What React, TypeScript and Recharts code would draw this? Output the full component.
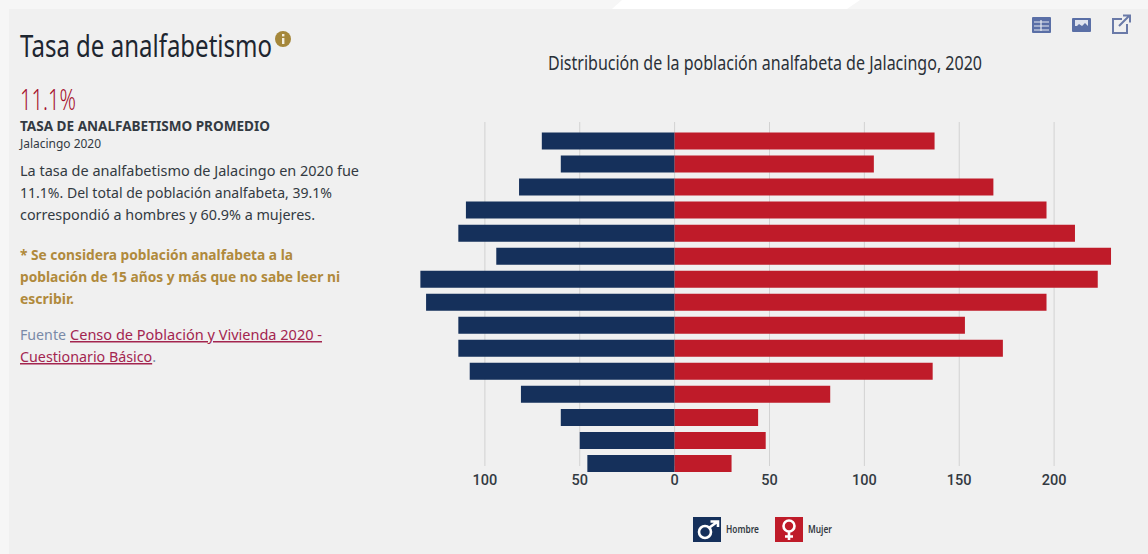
import { BarChart, Bar, XAxis, YAxis, CartesianGrid, Legend } from 'recharts';

const ageGroups = [
  '85 y más', '80 a 84', '75 a 79', '70 a 74', '65 a 69', '60 a 64', '55 a 59', '50 a 54',
  '45 a 49', '40 a 44', '35 a 39', '30 a 34', '25 a 29', '20 a 24', '15 a 19',
];
const hombres = [70, 60, 82, 110, 114, 94, 134, 131, 114, 114, 108, 81, 60, 50, 46];
const mujeres = [137, 105, 168, 196, 211, 230, 223, 196, 153, 173, 136, 82, 44, 48, 30];
const xTicks = [-100, -50, 0, 50, 100, 150, 200];

const data = ageGroups.map((grupo, i) => ({
  grupo,
  hombre: -hombres[i],
  mujer: mujeres[i],
}));

const NAVY = '#15305b';
const RED = '#bf1b29';
const SANS = '"Noto Sans", sans-serif';

// x, baseline, ancho medido en la referencia
function Line({ x, y, w, size, color, weight = 400, underline = false, children }: any) {
  return (
    <text
      x={x}
      y={y}
      textLength={w}
      lengthAdjust="spacingAndGlyphs"
      fontFamily={SANS}
      fontSize={size}
      fontWeight={weight}
      fill={color}
      textDecoration={underline ? 'underline' : undefined}
    >
      {children}
    </text>
  );
}

function Background() {
  return (
    <svg width={1148} height={554} style={{ position: 'absolute', left: 0, top: 0 }}>
      <rect width={1148} height={554} fill="#f6f6f6" />
      <polygon points="612,9 622,0 860,0 847,9" fill="#ffffff" />
      <rect x={9} y={9} width={1139} height={545} fill="#f0f0f0" />

      <Line x={20} y={57} w={252} size={31} color="#1e2630">Tasa de analfabetismo</Line>
      <circle cx={283} cy={39} r={8} fill="#a5873a" />
      <rect x={282} y={38} width={2.4} height={6} fill="#f4efe0" />
      <rect x={282} y={34} width={2.4} height={2.4} fill="#f4efe0" />

      <Line x={20} y={110} w={56} size={29} color="#a5102c" weight={300}>11.1%</Line>
      <Line x={20} y={131} w={250} size={14.5} color="#333a42" weight={700}>TASA DE ANALFABETISMO PROMEDIO</Line>
      <Line x={20} y={148} w={81} size={12} color="#333a42">Jalacingo 2020</Line>

      <Line x={20} y={176} w={339} size={15} color="#333a42">La tasa de analfabetismo de Jalacingo en 2020 fue</Line>
      <Line x={20} y={198} w={312} size={15} color="#333a42">11.1%. Del total de población analfabeta, 39.1%</Line>
      <Line x={20} y={220} w={295} size={15} color="#333a42">correspondió a hombres y 60.9% a mujeres.</Line>

      <Line x={20} y={260} w={273} size={15} color="#b08a3c" weight={700}>* Se considera población analfabeta a la</Line>
      <Line x={20} y={282} w={320} size={15} color="#b08a3c" weight={700}>población de 15 años y más que no sabe leer ni</Line>
      <Line x={20} y={304} w={54} size={15} color="#b08a3c" weight={700}>escribir.</Line>

      <Line x={20} y={340} w={46} size={15} color="#7a8aa8">Fuente</Line>
      <Line x={70} y={340} w={252} size={15} color="#a3254f" underline>Censo de Población y Vivienda 2020 -</Line>
      <Line x={20} y={362} w={136} size={15} color="#7a8aa8">
        <tspan fill="#a3254f" textDecoration="underline">Cuestionario Básico</tspan>.
      </Line>

      <Line x={548} y={70} w={434} size={19.5} color="#2a3038">Distribución de la población analfabeta de Jalacingo, 2020</Line>

      {/* tabla */}
      <rect x={1032} y={17} width={19} height={16} rx={1} fill="#5a6fa6" />
      <path d="M1034 22h15M1034 26h15M1034 30h15M1041 20v11" stroke="#e8ebf2" strokeWidth={1.2} />
      {/* imagen */}
      <rect x={1072} y={18} width={19} height={14} rx={1} fill="#5a6fa6" />
      <rect x={1075} y={20} width={13} height={6} fill="#dfe3ee" />
      <path d="M1075 28l4-4 3 2 3-3 3 3v2h-13z" fill="#5a6fa6" />
      {/* enlace externo */}
      <path d="M1122 19h-9v14h14v-9" fill="none" stroke="#6a7aa8" strokeWidth={2} />
      <path d="M1119 26l10-10M1123 15.500h7v7" fill="none" stroke="#6a7aa8" strokeWidth={2} />
    </svg>
  );
}

function GenderIcon({ kind, color }: { kind: string; color: string }) {
  return (
    <svg width={28} height={25} style={{ display: 'block' }}>
      <rect width={28} height={25} fill={color} />
      {kind === 'hombre' ? (
        <g fill="none" stroke="#ffffff" strokeWidth={2.6}>
          <circle cx={12} cy={15} r={6} />
          <path d="M16.500 10.500L24 5M17.500 4.500H25V10" />
        </g>
      ) : (
        <g fill="none" stroke="#ffffff" strokeWidth={2.6}>
          <circle cx={14} cy={9} r={5.500} />
          <path d="M14 14.500V23M10 19.500H18" />
        </g>
      )}
    </svg>
  );
}

const legendWidths: Record<string, number> = { Hombre: 33, Mujer: 24 };

function renderLegend({ payload }: any) {
  return (
    <div style={{ display: 'flex', gap: 16 }}>
      {payload.map((item: any) => (
        <div key={item.value} style={{ display: 'flex', alignItems: 'center', gap: 5 }}>
          <GenderIcon kind={item.value.toLowerCase()} color={item.color} />
          <svg width={60} height={25} style={{ display: 'block', marginRight: legendWidths[item.value] - 60 }}>
            <text
              x={0}
              y={16}
              textLength={legendWidths[item.value]}
              lengthAdjust="spacingAndGlyphs"
              fontFamily={SANS}
              fontSize={11}
              fontWeight={600}
              fill="#333a42"
            >
              {item.value}
            </text>
          </svg>
        </div>
      ))}
    </div>
  );
}

export default function App() {
  return (
    <div style={{ position: 'absolute', left: 0, top: 0, width: 1148, height: 554, overflow: 'hidden' }}>
      <Background />
      <div style={{ position: 'absolute', left: 0, top: 0 }}>
        <BarChart
          width={1148}
          height={554}
          data={data}
          layout="vertical"
          stackOffset="sign"
          margin={{ top: 129.5, right: 18, bottom: 49, left: 409 }}
        >
          <CartesianGrid horizontal={false} stroke="#d2d2d2" y={122} height={344} syncWithTicks verticalValues={xTicks} />
          <XAxis
            type="number"
            domain={[-140, 240]}
            ticks={xTicks}
            tickFormatter={(v: number) => String(Math.abs(v))}
            axisLine={false}
            tickLine={false}
            tickSize={0}
            tickMargin={0}
            height={30}
            tick={{ fontFamily: 'Roboto, sans-serif', fontSize: 14.5, fontWeight: 500, fill: '#333a42' }}
          />
          <YAxis type="category" dataKey="grupo" hide />
          <Legend
            layout="horizontal"
            verticalAlign="middle"
            align="center"
            content={renderLegend}
            wrapperStyle={{ left: 692.5, top: 517, width: 180, height: 25 }}
          />
          <Bar dataKey="hombre" name="Hombre" stackId="pob" fill={NAVY} barSize={17} isAnimationActive={false} />
          <Bar dataKey="mujer" name="Mujer" stackId="pob" fill={RED} barSize={17} isAnimationActive={false} />
        </BarChart>
      </div>
    </div>
  );
}
